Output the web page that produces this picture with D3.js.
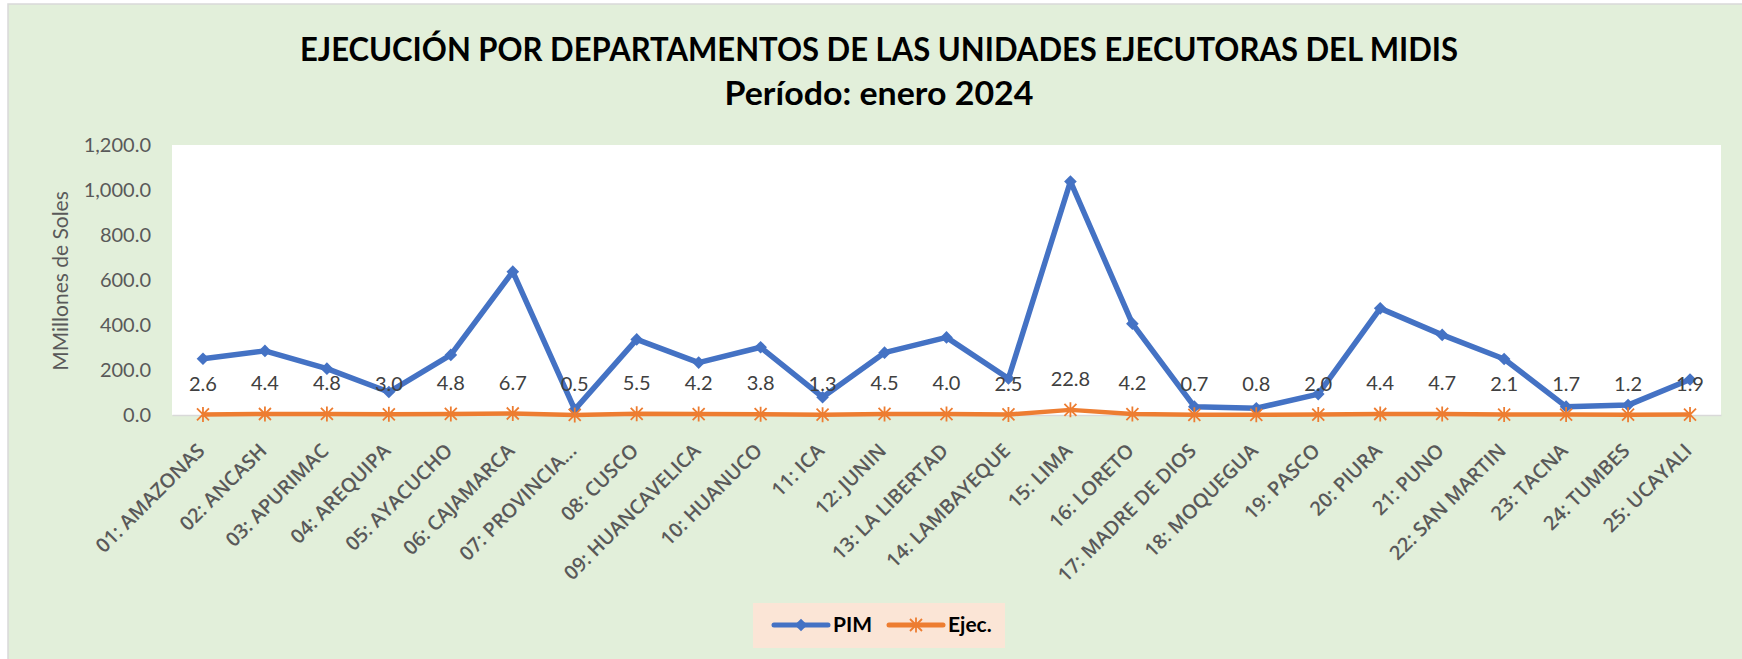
<!DOCTYPE html>
<html>
<head>
<meta charset="utf-8">
<script src="https://cdn.jsdelivr.net/npm/d3@7"></script>
<style>
body { margin: 0; background: #fff; }
text { font-family: Lato, "Open Sans", sans-serif; }
</style>
</head>
<body>
<svg id="chart" width="1742" height="659"></svg>
<script>
// datos (millones de soles)
var departamentos = ["01: AMAZONAS", "02: ANCASH", "03: APURIMAC", "04: AREQUIPA", "05: AYACUCHO",
    "06: CAJAMARCA", "07: PROVINCIA...", "08: CUSCO", "09: HUANCAVELICA", "10: HUANUCO",
    "11: ICA", "12: JUNIN", "13: LA LIBERTAD", "14: LAMBAYEQUE", "15: LIMA",
    "16: LORETO", "17: MADRE DE DIOS", "18: MOQUEGUA", "19: PASCO", "20: PIURA",
    "21: PUNO", "22: SAN MARTIN", "23: TACNA", "24: TUMBES", "25: UCAYALI"];

var pim = [250, 285, 206, 102, 267, 637, 24, 336, 233, 301, 79, 277, 345, 162, 1038,
    406, 37, 30, 93, 474, 356, 249, 37, 44, 158];

var ejec = [2.6, 4.4, 4.8, 3.0, 4.8, 6.7, 0.5, 5.5, 4.2, 3.8, 1.3, 4.5, 4.0, 2.5, 22.8,
    4.2, 0.7, 0.8, 2.0, 4.4, 4.7, 2.1, 1.7, 1.2, 1.9];

var yTicks = [0, 200, 400, 600, 800, 1000, 1200];

var series = [
    { name: "PIM", values: pim, color: "#4472C4" },
    { name: "Ejec.", values: ejec, color: "#ED7D31" }
];

var svg = d3.select('#chart');

var plot = { left: 172, right: 1721, top: 145, bottom: 415 };

// fondo del grafico
svg.append("rect")
    .attr("x", 8).attr("y", 4)
    .attr("width", 1742).attr("height", 670)
    .attr("fill", "#E2EFDA")
    .attr("stroke", "#D9D9D9")
    .attr("stroke-width", 1.5);

svg.append("rect")
    .attr("x", plot.left).attr("y", plot.top)
    .attr("width", plot.right - plot.left).attr("height", plot.bottom - plot.top)
    .attr("fill", "#fff");

var xScale = d3.scaleBand()
    .domain(departamentos)
    .range([plot.left, plot.right]);

var yScale = d3.scaleLinear()
    .domain([0, 1200])
    .range([plot.bottom, plot.top]);

function xPos(i) {
    return xScale(departamentos[i]) + xScale.bandwidth() / 2;
}

// titulo
svg.append("text")
    .attr("x", 879).attr("y", 61)
    .attr("text-anchor", "middle")
    .attr("font-size", 33).attr("font-weight", "bold")
    .attr("textLength", 1158).attr("lengthAdjust", "spacingAndGlyphs")
    .text("EJECUCIÓN POR DEPARTAMENTOS DE LAS UNIDADES EJECUTORAS DEL MIDIS");

svg.append("text")
    .attr("x", 879).attr("y", 105)
    .attr("text-anchor", "middle")
    .attr("font-size", 33).attr("font-weight", "bold")
    .attr("textLength", 309).attr("lengthAdjust", "spacingAndGlyphs")
    .text("Período: enero 2024");

// eje y
var yAxis = d3.axisLeft(yScale)
    .tickValues(yTicks)
    .tickFormat(d3.format(",.1f"))
    .tickSize(0)
    .tickPadding(21);

var gy = svg.append("g")
    .attr("transform", "translate(" + plot.left + ",0)")
    .call(yAxis);
gy.select(".domain").remove();
gy.selectAll("text")
    .attr("font-size", 20)
    .attr("fill", "#595959")
    .style("font-family", "Lato, sans-serif");

svg.append("text")
    .attr("transform", "translate(68, 281) rotate(-90)")
    .attr("text-anchor", "middle")
    .attr("font-size", 21)
    .attr("fill", "#595959")
    .text("MMillones de Soles");

// eje x
var xAxis = d3.axisBottom(xScale).tickSize(0).tickPadding(0);
var gx = svg.append("g")
    .attr("transform", "translate(0," + plot.bottom + ")")
    .call(xAxis);
gx.select(".domain")
    .attr("stroke", "#D9D9D9")
    .attr("stroke-width", 1.5);
var xLabels = gx.selectAll("text")
    .attr("font-size", 20)
    .attr("fill", "#595959")
    .attr("font-weight", 600)
    .style("font-family", "'Open Sans', sans-serif")
    .attr("text-anchor", "end")
    .attr("dy", null)
    .attr("y", 0)
    .attr("transform", "translate(3,37) rotate(-45)");

// ajustar tamaño para que "09: HUANCAVELICA" mida ~183px como en el original
var refLen = xLabels.filter(function(d) { return d == "09: HUANCAVELICA"; }).node().getComputedTextLength();
xLabels.attr("font-size", (20 * 183 / refLen).toFixed(2));

// lineas
var line = d3.line()
    .x(function(d, i) { return xPos(i); })
    .y(function(d) { return yScale(d); });

series.forEach(function(s) {
    svg.append("path")
        .datum(s.values)
        .attr("fill", "none")
        .attr("stroke", s.color)
        .attr("stroke-width", s.name == "PIM" ? 5.5 : 4.5)
        .attr("stroke-linejoin", "round")
        .attr("d", line);
});

var diamond = d3.symbol().type(d3.symbolSquare).size(80);
var star = "M-6,-6L6,6M-6,6L6,-6M0,-7.5L0,7.5";

svg.append("g").selectAll("path")
    .data(pim)
    .join("path")
    .attr("d", diamond)
    .attr("fill", "#4472C4")
    .attr("transform", function(d, i) { return "translate(" + xPos(i) + "," + yScale(d) + ") rotate(45)"; });

svg.append("g").selectAll("path")
    .data(ejec)
    .join("path")
    .attr("d", star)
    .attr("stroke", "#ED7D31")
    .attr("stroke-width", 1.8)
    .attr("fill", "none")
    .attr("transform", function(d, i) { return "translate(" + xPos(i) + "," + yScale(d) + ")"; });

// etiquetas de datos de Ejec.
svg.append("g").selectAll("text")
    .data(ejec)
    .join("text")
    .attr("x", function(d, i) { return xPos(i); })
    .attr("y", function(d) { return yScale(d) - 31; })
    .attr("dy", "0.36em")
    .attr("text-anchor", "middle")
    .attr("font-size", 20)
    .attr("fill", "#404040")
    .text(function(d) { return d3.format(".1f")(d); });

// leyenda
var legend = svg.append("g");
legend.append("rect")
    .attr("x", 753).attr("y", 603)
    .attr("width", 252).attr("height", 45)
    .attr("fill", "#FBE5D6");

var legendItems = [
    { s: series[0], x: 774, tx: 833 },
    { s: series[1], x: 889, tx: 948 }
];
legendItems.forEach(function(it) {
    legend.append("line")
        .attr("x1", it.x).attr("x2", it.x + 54)
        .attr("y1", 625).attr("y2", 625)
        .attr("stroke", it.s.color)
        .attr("stroke-width", 5)
        .attr("stroke-linecap", "round");
    if (it.s.name == "PIM") {
        legend.append("path")
            .attr("d", diamond)
            .attr("fill", it.s.color)
            .attr("transform", "translate(" + (it.x + 27) + ",625) rotate(45)");
    } else {
        legend.append("path")
            .attr("d", star)
            .attr("stroke", it.s.color)
            .attr("stroke-width", 1.8)
            .attr("transform", "translate(" + (it.x + 27) + ",625)");
    }
    legend.append("text")
        .attr("x", it.tx).attr("y", 632)
        .attr("font-size", 21)
        .attr("font-weight", "bold")
        .attr("fill", "#000")
        .text(it.s.name);
});
</script>
</body>
</html>
